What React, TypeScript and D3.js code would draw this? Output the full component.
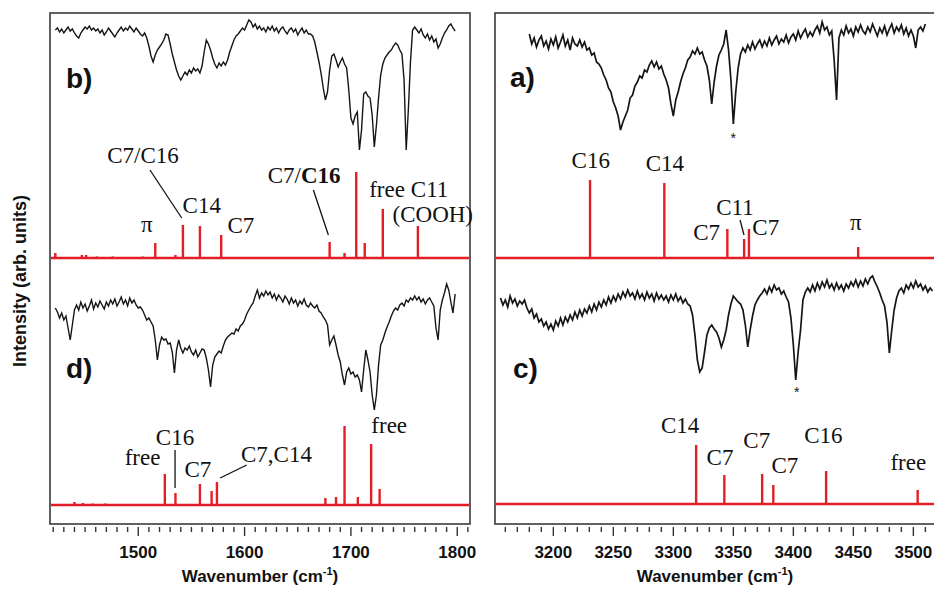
import React from "react";
import * as d3 from "d3";

// ---------- DATA ----------
// Experimental traces (depth below panel top, arb. units; larger = stronger absorption), grid step 2 cm-1
const gridB = d3.range(1422, 1799, 2);
const traceB = [
  20,18,22,19,23,20,17,21,19,23,
  26,28,23,20,17,19,16,20,18,21,
  19,23,20,25,22,18,21,24,27,23,
  20,17,21,18,20,16,19,22,18,21,
  24,26,23,28,36,46,52,45,40,37,
  34,30,24,25,34,44,52,60,66,70,
  66,62,65,60,63,58,61,59,63,56,
  42,30,34,40,48,54,58,53,56,52,
  55,50,42,36,30,26,24,21,18,20,
  15,10,12,17,14,19,16,20,18,22,
  17,20,16,21,18,23,19,17,21,24,
  20,18,22,19,25,21,18,23,20,24,
  24,26,32,42,52,64,78,90,82,60,
  46,44,50,57,52,48,54,58,80,108,
  114,106,102,140,120,84,82,86,88,105,
  137,115,88,65,54,48,45,42,40,36,
  33,35,40,44,70,140,100,52,20,17,
  20,23,19,25,28,24,30,26,32,29,
  38,34,28,23,20,16,14,18,21,
];
const gridD = d3.range(1422, 1799, 2);
const traceD = [
  38,42,48,43,50,46,58,70,55,40,
  35,40,32,38,34,41,36,30,39,33,
  37,31,35,39,32,36,30,34,29,36,
  32,27,34,30,36,28,33,30,35,38,
  37,40,45,50,48,52,56,70,90,75,
  67,70,69,74,73,82,103,80,70,78,
  83,78,80,76,82,85,80,87,83,79,
  80,88,100,117,95,87,84,81,83,76,
  70,67,65,63,64,59,61,56,54,50,
  44,40,36,33,26,20,28,23,26,21,
  25,22,28,24,30,25,28,32,26,29,
  34,28,33,30,36,31,34,29,35,37,
  33,36,38,35,41,43,47,50,55,75,
  70,66,75,85,92,105,115,102,98,104,
  102,107,105,110,122,100,80,90,102,125,
  140,125,95,75,70,63,57,52,46,41,
  38,40,35,33,36,30,32,28,30,26,
  30,27,32,29,34,30,28,32,36,58,
  70,40,30,23,14,20,32,43,24,
];
const gridA = d3.range(3180, 3511, 2);
const traceA = [
  24,34,28,37,30,26,36,31,39,29,
  35,27,38,32,25,36,30,40,28,34,
  36,30,37,32,40,38,45,43,52,54,
  58,65,70,78,82,92,98,106,120,112,
  106,100,88,85,76,72,66,68,60,62,
  55,51,57,52,59,56,64,70,78,94,
  106,90,82,72,64,58,50,47,41,44,
  38,44,42,50,56,70,94,72,56,45,
  40,34,20,40,70,114,82,58,44,38,
  42,35,40,32,39,34,30,37,31,36,
  28,35,30,26,34,29,32,25,33,27,
  24,30,21,28,23,19,27,22,26,20,
  16,23,12,20,17,25,21,50,90,28,
  20,25,16,23,19,26,17,22,15,21,
  24,17,22,14,20,26,18,23,16,25,
  19,14,23,17,21,15,24,18,26,20,
  26,38,20,17,21,14,
];
const gridC = d3.range(3156, 3517, 2);
const traceC = [
  28,35,30,37,26,33,29,36,31,34,
  30,38,43,39,48,44,52,49,56,52,
  59,54,60,51,56,48,55,47,52,45,
  50,42,48,40,46,39,43,36,42,34,
  40,32,37,30,35,27,33,26,31,24,
  29,22,27,20,26,23,29,21,28,24,
  30,22,28,24,31,23,29,25,30,26,
  32,25,30,24,31,27,33,29,34,36,
  45,65,90,102,98,82,65,58,55,59,
  62,68,77,70,60,45,34,26,29,32,
  34,40,55,77,60,46,35,30,26,23,
  19,24,17,22,15,20,18,24,21,27,
  32,48,75,110,82,60,30,22,18,22,
  15,21,13,19,12,17,10,18,14,20,
  13,19,15,21,14,18,12,16,10,17,
  11,16,9,14,8,6,12,17,23,30,
  36,52,83,60,40,28,21,18,23,15,
  19,13,18,11,17,14,20,16,22,18,
  21,
];

// Calculated (stick) spectra: positions (cm-1) and intensities (arb.)
const stickPosB = [1422, 1447, 1451, 1461, 1476, 1504, 1516, 1535, 1542, 1558, 1578, 1680, 1694, 1705, 1713, 1730, 1763];
const stickIntB = [5, 3, 3, 1.5, 1.5, 1.5, 15, 3, 33, 32, 23, 16, 5, 86, 15, 49, 32];
const stickPosD = [1440, 1448, 1457, 1469, 1525, 1535, 1558, 1569, 1574, 1676, 1686, 1694, 1706.5, 1719, 1727];
const stickIntD = [3, 2, 1.5, 1.5, 31, 12, 21, 14, 23, 7, 8, 79, 8, 61, 16];
const stickPosA = [3230.6, 3292.5, 3345, 3359, 3363, 3454];
const stickIntA = [78, 75, 29, 19, 29, 11];
const stickPosC = [3319, 3342.5, 3374, 3383.3, 3427.3, 3503.6];
const stickIntC = [59, 29, 30, 19, 33, 14];

// Annotations: [text, wavenumber, intensity]
const labelsB: [string, number, number][] = [
  ["C7/C16", 1504.5, 95], ["π", 1508, 26], ["C14", 1559.7, 45], ["C7", 1596.5, 25],
  ["free", 1734, 61], ["C11", 1774, 61], ["(COOH)", 1777, 36],
];
const labelsD: [string, number, number][] = [
  ["free", 1504, 40], ["C16", 1534.6, 60], ["C7", 1556, 28], ["C7,C14", 1630, 43], ["free", 1736, 72],
];
const labelsA: [string, number, number][] = [
  ["C16", 3231.2, 90], ["C14", 3293, 87], ["C7", 3327.8, 18], ["C11", 3351.4, 43], ["C7", 3377, 23], ["π", 3452, 28],
];
const labelsC: [string, number, number][] = [
  ["C14", 3305.6, 71], ["C7", 3338.9, 39], ["C7", 3369.5, 56], ["C7", 3393, 31], ["C16", 3425, 61], ["free", 3495.8, 34],
];
// Leader lines: [wn1, int1, wn2, int2]
const leadersB = [[1511, 88, 1540.9, 40], [1664.7, 68, 1678.8, 23]];
const leadersD = [[1534.6, 55, 1534.6, 17], [1602, 40, 1577, 27]];
const leadersA = [[3355.6, 38, 3358.9, 23]];

const ticksL = d3.range(1420, 1811, 10);
const ticksR = d3.range(3160, 3521, 10);

// ---------- LAYOUT ----------
const W = 934, H = 589;
const RED = "#e41e26";
const SERIF = "'Liberation Serif', 'Times New Roman', serif";
const SANS = "'Liberation Sans', Arial, sans-serif";

const xL = d3.scaleLinear().domain([1417, 1812]).range([50, 470]);
const xR = d3.scaleLinear().domain([3151.4, 3517.2]).range([495, 934]);
const depthTop = d3.scaleLinear().domain([0, 150]).range([10, 160]);
const depthBot = d3.scaleLinear().domain([0, 150]).range([270, 420]);
const stickScale = (base: number) => d3.scaleLinear().domain([0, 100]).range([base, base - 100]);
const sB = stickScale(258), sD = stickScale(505), sA = stickScale(258), sC = stickScale(504);

function Trace({ grid, vals, x, y, w }: any) {
  const n = Math.min(grid.length, vals.length);
  const pts = d3.range(n).map((i) => [grid[i], vals[i]] as [number, number]);
  const line = d3.line<[number, number]>().x((d) => x(d[0])).y((d) => y(d[1]));
  return <path d={line(pts) || ""} fill="none" stroke="#151515" strokeWidth={w} strokeLinejoin="miter" />;
}

function Sticks({ pos, ints, x, s, x0, x1 }: any) {
  return (
    <g stroke={RED}>
      <line x1={x0} x2={x1} y1={s(0)} y2={s(0)} strokeWidth={2.6} />
      {pos.map((p: number, i: number) => (
        <line key={i} x1={x(p)} x2={x(p)} y1={s(0)} y2={s(ints[i])} strokeWidth={2.4} />
      ))}
    </g>
  );
}

function Labels({ items, x, s }: any) {
  return (
    <g fontFamily={SERIF} fontSize={23} fill="#111" textAnchor="middle">
      {items.map((d: any, i: number) => (
        <text key={i} x={x(d[1])} y={s(d[2])}>{d[0]}</text>
      ))}
    </g>
  );
}

function Leaders({ items, x, s }: any) {
  return (
    <g stroke="#111" strokeWidth={1.3}>
      {items.map((d: number[], i: number) => (
        <line key={i} x1={x(d[0])} y1={s(d[1])} x2={x(d[2])} y2={s(d[3])} />
      ))}
    </g>
  );
}

function Axis({ ticks, x, major, y0 }: any) {
  return (
    <g>
      {ticks.map((t: number) => {
        const isMaj = t % major === 0;
        return <line key={t} x1={x(t)} x2={x(t)} y1={y0} y2={y0 + (isMaj ? 9 : 5)} stroke="#333" strokeWidth={1.4} />;
      })}
      {ticks.filter((t: number) => t % major === 0).map((t: number) => (
        <text key={"l" + t} x={x(t)} y={558} textAnchor="middle" fontFamily={SANS} fontWeight="bold" fontSize={17} fill="#111">{t}</text>
      ))}
    </g>
  );
}

export default function App() {
  return (
    <svg width={W} height={H} style={{ position: "absolute", left: 0, top: 0, background: "#fff" }}>
      <rect x={0} y={0} width={W} height={H} fill="#fff" />
      {/* frames */}
      <rect x={50} y={13} width={420} height={511} fill="none" stroke="#3a3a3a" strokeWidth={1.6} />
      <rect x={495} y={13} width={460} height={511} fill="none" stroke="#3a3a3a" strokeWidth={1.6} />

      {/* left panel: b (top), d (bottom) */}
      <Trace grid={gridB} vals={traceB} x={xL} y={depthTop} w={1.4} />
      <Sticks pos={stickPosB} ints={stickIntB} x={xL} s={sB} x0={51} x1={469} />
      <Labels items={labelsB} x={xL} s={sB} />
      <text x={xL(1656)} y={sB(75)} textAnchor="middle" fontFamily={SERIF} fontSize={23} fill="#111">
        C7/<tspan fontWeight="bold">C16</tspan>
      </text>
      <Leaders items={leadersB} x={xL} s={sB} />

      <Trace grid={gridD} vals={traceD} x={xL} y={depthBot} w={1.4} />
      <Sticks pos={stickPosD} ints={stickIntD} x={xL} s={sD} x0={51} x1={469} />
      <Labels items={labelsD} x={xL} s={sD} />
      <Leaders items={leadersD} x={xL} s={sD} />

      {/* right panel: a (top), c (bottom) */}
      <Trace grid={gridA} vals={traceA} x={xR} y={depthTop} w={1.7} />
      <Sticks pos={stickPosA} ints={stickIntA} x={xR} s={sA} x0={496} x1={934} />
      <Labels items={labelsA} x={xR} s={sA} />
      <Leaders items={leadersA} x={xR} s={sA} />
      <text x={xR(3350)} y={depthTop(133)} textAnchor="middle" fontFamily={SANS} fontSize={14} fill="#111">*</text>

      <Trace grid={gridC} vals={traceC} x={xR} y={depthBot} w={1.7} />
      <Sticks pos={stickPosC} ints={stickIntC} x={xR} s={sC} x0={496} x1={934} />
      <Labels items={labelsC} x={xR} s={sC} />
      <text x={xR(3402.8)} y={depthBot(127)} textAnchor="middle" fontFamily={SANS} fontSize={14} fill="#111">*</text>

      {/* panel letters */}
      <g fontFamily={SANS} fontWeight="bold" fontSize={28} fill="#111">
        <text x={66} y={88}>b)</text>
        <text x={66} y={378}>d)</text>
        <text x={510} y={87}>a)</text>
        <text x={513} y={378}>c)</text>
      </g>

      {/* axes */}
      <Axis ticks={ticksL} x={xL} major={100} y0={527} />
      <Axis ticks={ticksR} x={xR} major={50} y0={527} />
      <g fontFamily={SANS} fontWeight="bold" fontSize={17} fill="#111" textAnchor="middle">
        <text x={260} y={582}>Wavenumber (cm<tspan dy={-7} fontSize={11}>-1</tspan><tspan dy={7}>)</tspan></text>
        <text x={715} y={582}>Wavenumber (cm<tspan dy={-7} fontSize={11}>-1</tspan><tspan dy={7}>)</tspan></text>
        <text transform="translate(26,281) rotate(-90)" fontSize={18}>Intensity (arb. units)</text>
      </g>
    </svg>
  );
}
